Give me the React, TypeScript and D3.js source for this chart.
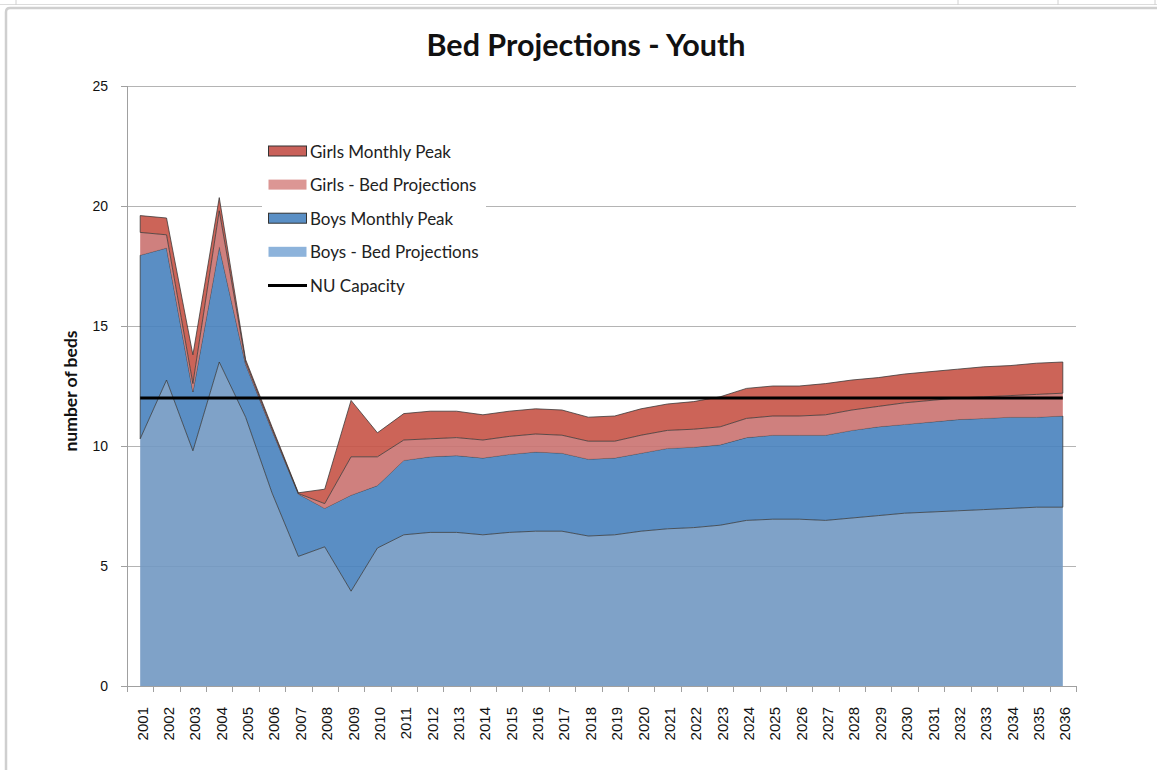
import React, { useEffect, useRef } from 'react';
import * as d3 from 'd3';

// category labels (x axis)
const years = [
  '2001', '2002', '2003', '2004', '2005', '2006', '2007', '2008', '2009', '2010',
  '2011', '2012', '2013', '2014', '2015', '2016', '2017', '2018', '2019', '2020',
  '2021', '2022', '2023', '2024', '2025', '2026', '2027', '2028', '2029', '2030',
  '2031', '2032', '2033', '2034', '2035', '2036',
];

// stacked series, bottom to top
const boysBed = [
  10.3, 12.75, 9.8, 13.5, 11.2, 8.05, 5.4, 5.8, 3.95, 5.75,
  6.3, 6.4, 6.4, 6.3, 6.4, 6.45, 6.45, 6.25, 6.3, 6.45,
  6.55, 6.6, 6.7, 6.9, 6.95, 6.95, 6.9, 7.0, 7.1, 7.2,
  7.25, 7.3, 7.35, 7.4, 7.45, 7.45,
];
const boysPeak = [
  7.65, 5.5, 2.45, 4.8, 2.2, 2.6, 2.6, 1.6, 4.0, 2.6,
  3.1, 3.15, 3.2, 3.2, 3.25, 3.3, 3.25, 3.2, 3.2, 3.25,
  3.35, 3.35, 3.35, 3.45, 3.5, 3.5, 3.55, 3.65, 3.7, 3.7,
  3.75, 3.8, 3.8, 3.8, 3.75, 3.8,
];
const girlsBed = [
  0.95, 0.55, 0.35, 1.5, 0.1, 0.07, 0.02, 0.2, 1.6, 1.2,
  0.85, 0.75, 0.75, 0.75, 0.75, 0.75, 0.75, 0.75, 0.7, 0.75,
  0.75, 0.75, 0.75, 0.8, 0.8, 0.8, 0.85, 0.85, 0.85, 0.9,
  0.9, 0.9, 0.9, 0.9, 0.95, 0.95,
];
const girlsPeak = [
  0.7, 0.7, 1.2, 0.55, 0.1, 0.08, 0.03, 0.6, 2.35, 1.0,
  1.1, 1.15, 1.1, 1.05, 1.05, 1.05, 1.05, 1.0, 1.05, 1.1,
  1.1, 1.15, 1.25, 1.25, 1.25, 1.25, 1.3, 1.25, 1.2, 1.2,
  1.2, 1.2, 1.25, 1.25, 1.3, 1.3,
];
const nuCapacity = [
  12, 12, 12, 12, 12, 12, 12, 12, 12, 12,
  12, 12, 12, 12, 12, 12, 12, 12, 12, 12,
  12, 12, 12, 12, 12, 12, 12, 12, 12, 12,
  12, 12, 12, 12, 12, 12,
];

const yTicks = [0, 5, 10, 15, 20, 25];

const seriesKeys = ['boysBed', 'boysPeak', 'girlsBed', 'girlsPeak'];
const seriesFill = {
  boysBed: '#7198c2',
  boysPeak: '#4882be',
  girlsBed: '#ca7270',
  girlsPeak: '#c65346',
};
const seriesStroke = {
  boysBed: 'none',
  boysPeak: '#333',
  girlsBed: 'none',
  girlsPeak: '#333',
};

const legendItems = [
  { label: 'Girls Monthly Peak', color: '#c9615a', border: true },
  { label: 'Girls - Bed Projections', color: '#dc9694' },
  { label: 'Boys Monthly Peak', color: '#5a8fc5', border: true },
  { label: 'Boys - Bed Projections', color: '#8db3db' },
  { label: 'NU Capacity', line: true },
];

const calibri = 'Lato, "Open Sans", sans-serif';
const arial = '"Liberation Sans", Arial, sans-serif';

const BedChart = () => {
  const svgRef = useRef<SVGSVGElement>(null);

  useEffect(() => {
    const svg = d3.select(svgRef.current);
    svg.selectAll('*').remove();

    const left = 127, right = 1076, top = 86, bottom = 686;

    const x = d3.scaleBand().domain(years).range([left, right]).padding(0);
    const cx = (yr: string) => (x(yr) as number) + x.bandwidth() / 2;
    const y = d3.scaleLinear().domain([0, 25]).range([bottom, top]);

    // spreadsheet remnants: cell row and chart frame
    const sheet = svg.append('g');
    sheet.append('line').attr('x1', 0).attr('x2', 1157).attr('y1', 4.5).attr('y2', 4.5)
      .attr('stroke', '#dcdcdc');
    [16, 958, 1058, 1155].forEach(vx => {
      sheet.append('line').attr('x1', vx).attr('x2', vx).attr('y1', 0).attr('y2', 5)
        .attr('stroke', '#d0d0d0');
    });
    sheet.append('path')
      .attr('d', 'M6,770 L6,12 Q6,8 10,8 L1160,8')
      .attr('fill', 'none')
      .attr('stroke', '#cfcfcf')
      .attr('stroke-width', 2.5);

    // gridlines
    svg.append('g').selectAll('line')
      .data(yTicks.filter(t => t > 0))
      .enter().append('line')
      .attr('x1', left).attr('x2', right)
      .attr('y1', d => y(d) + 0.5).attr('y2', d => y(d) + 0.5)
      .attr('stroke', '#b4b4b4');

    // stacked areas
    const rows = years.map((yr, i) => ({
      year: yr,
      boysBed: boysBed[i],
      boysPeak: boysPeak[i],
      girlsBed: girlsBed[i],
      girlsPeak: girlsPeak[i],
    }));
    const stacked = d3.stack<any>().keys(seriesKeys)(rows);

    const area = d3.area<any>()
      .x(d => cx(d.data.year))
      .y0(d => y(d[0]))
      .y1(d => y(d[1]));

    svg.append('g').selectAll('path')
      .data(stacked)
      .enter().append('path')
      .attr('d', d => area(d as any))
      .attr('fill', d => seriesFill[d.key])
      .attr('fill-opacity', 0.9)
      .attr('stroke', d => seriesStroke[d.key])
      .attr('stroke-opacity', 0.75)
      .attr('stroke-width', 1)
      .attr('stroke-linejoin', 'round');

    // NU capacity line
    const line = d3.line<number>()
      .x((d, i) => cx(years[i]))
      .y(d => y(d));
    svg.append('path')
      .datum(nuCapacity)
      .attr('d', line)
      .attr('fill', 'none')
      .attr('stroke', '#000')
      .attr('stroke-width', 3);

    // axes
    const axisColor = '#a0a0a0';
    const xAxis = svg.append('g');
    xAxis.append('line')
      .attr('x1', left).attr('x2', right + 0.5)
      .attr('y1', bottom + 0.5).attr('y2', bottom + 0.5)
      .attr('stroke', axisColor);
    xAxis.selectAll('.xtick')
      .data([...years.map(yr => x(yr) as number), right])
      .enter().append('line')
      .attr('x1', d => Math.round(d) + 0.5).attr('x2', d => Math.round(d) + 0.5)
      .attr('y1', bottom).attr('y2', bottom + 6)
      .attr('stroke', axisColor);
    xAxis.selectAll('text')
      .data(years)
      .enter().append('text')
      .attr('transform', d => `translate(${cx(d) + 2},707) rotate(-90)`)
      .attr('text-anchor', 'end')
      .attr('dominant-baseline', 'central')
      .style('font-family', arial)
      .style('font-size', '15px')
      .style('fill', '#111')
      .text(d => d);

    const yAxis = svg.append('g');
    yAxis.append('line')
      .attr('x1', left + 0.5).attr('x2', left + 0.5)
      .attr('y1', top).attr('y2', bottom + 6)
      .attr('stroke', axisColor);
    yAxis.selectAll('.ytick')
      .data(yTicks)
      .enter().append('line')
      .attr('x1', left - 6).attr('x2', left)
      .attr('y1', d => y(d) + 0.5).attr('y2', d => y(d) + 0.5)
      .attr('stroke', axisColor);
    yAxis.selectAll('text')
      .data(yTicks)
      .enter().append('text')
      .attr('x', 108)
      .attr('y', d => y(d))
      .attr('text-anchor', 'end')
      .attr('dominant-baseline', 'central')
      .style('font-family', arial)
      .style('font-size', '14px')
      .style('fill', '#111')
      .text(d => d);

    // axis title
    svg.append('text')
      .attr('transform', 'translate(70,391) rotate(-90)')
      .attr('text-anchor', 'middle')
      .attr('dominant-baseline', 'central')
      .style('font-family', calibri)
      .style('font-weight', 700)
      .style('font-size', '17.5px')
      .style('fill', '#111')
      .text('number of beds');

    // chart title
    svg.append('text')
      .attr('x', 586)
      .attr('y', 56)
      .attr('text-anchor', 'middle')
      .style('font-family', calibri)
      .style('font-weight', 700)
      .style('font-size', '30.5px')
      .style('fill', '#111')
      .text('Bed Projections - Youth');

    // legend
    const legend = svg.append('g');
    legend.append('rect')
      .attr('x', 262).attr('y', 134).attr('width', 224).attr('height', 168)
      .attr('fill', '#fff');
    legendItems.forEach((item, i) => {
      const ly = 151 + i * 33.6;
      if (item.line) {
        legend.append('line')
          .attr('x1', 268).attr('x2', 307)
          .attr('y1', ly).attr('y2', ly)
          .attr('stroke', '#000').attr('stroke-width', 3);
      } else {
        legend.append('rect')
          .attr('x', 268.5).attr('y', ly - 5)
          .attr('width', 38).attr('height', 10)
          .attr('fill', item.color)
          .attr('stroke', item.border ? '#333' : 'none')
          .attr('stroke-width', 1);
      }
      legend.append('text')
        .attr('x', 310)
        .attr('y', ly)
        .attr('dominant-baseline', 'central')
        .style('font-family', calibri)
        .style('font-size', '17px')
        .style('fill', '#222')
        .text(item.label);
    });
  }, []);

  return (
    <svg
      ref={svgRef}
      width={1157}
      height={770}
      style={{ position: 'fixed', left: 0, top: 0, background: '#fff' }}
    />
  );
};

export default function App() {
  return <BedChart />;
}
